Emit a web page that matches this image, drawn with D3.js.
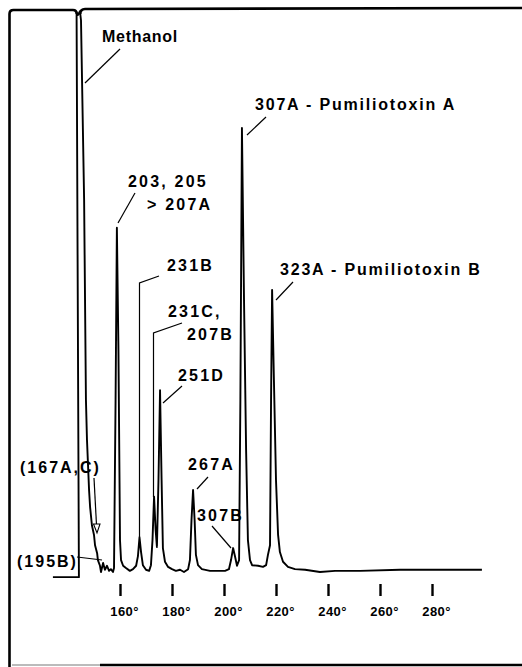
<!DOCTYPE html>
<html><head><meta charset="utf-8">
<script src="https://cdn.jsdelivr.net/npm/d3@7"></script>
<style>body{margin:0;background:#fff}svg{display:block}</style>
</head><body>
<svg id="chart" width="522" height="667"></svg>
<script>
// Retention (column temperature, degrees) and detector signal (% of full scale)
const retention = [134.2,144.2,143.3,143.8,144.6,145.0,146.2,146.9,147.3,148.1,148.5,149.2,150.0,150.4,151.2,151.5,152.3,152.7,153.5,154.2,155.0,155.8,156.5,157.3,157.7,158.3,158.8,159.4,160.0,160.4,161.2,162.3,163.8,165.0,166.2,166.9,167.5,168.1,168.8,170.0,171.2,171.9,172.5,173.1,173.7,174.2,174.8,175.4,176.0,176.5,177.3,178.5,180.0,181.5,183.1,184.6,186.2,186.9,187.5,188.1,188.7,189.2,190.0,191.5,194.6,197.7,200.4,201.9,202.7,203.5,204.2,205.0,205.8,206.3,206.9,207.7,208.5,209.2,210.0,210.8,213.1,215.0,216.2,216.9,217.7,218.1,218.5,219.2,220.0,220.8,221.5,222.7,224.6,227.3,231.2,236.9,242.7,252.3,267.7,283.1,299.2];
const signal = [0.5,0.5,99.6,99.1,99.8,98.2,66.7,31.6,24.6,15.8,12.8,9.6,7.9,6.1,4.7,3.5,2.5,1.4,3.0,1.8,2.5,1.6,1.9,1.4,2.1,31.6,61.8,40.4,7.0,3.5,2.5,2.1,1.6,1.9,2.5,4.2,7.5,4.9,2.6,1.8,1.6,2.6,7.0,14.6,8.8,5.8,17.5,33.3,17.5,5.6,3.2,2.3,1.9,1.6,1.8,1.4,1.9,3.5,10.5,15.8,10.5,4.4,2.6,1.9,1.6,1.6,1.6,1.9,3.5,5.6,4.2,2.5,3.5,31.6,79.3,49.1,22.8,7.0,3.5,2.6,2.5,2.3,2.6,4.4,6.1,31.6,50.9,35.1,17.5,7.9,4.9,3.2,2.3,1.9,1.8,1.4,1.6,1.6,1.8,1.8,1.8];
const tickValues = [160,180,200,220,240,260,280];
const tickLabels = ["160°","180°","200°","220°","240°","260°","280°"];
const peakNames = ["Methanol","203, 205","> 207A","231B","231C,","207B","251D","267A","307B","307A - Pumiliotoxin A","323A - Pumiliotoxin B","(167A,C)","(195B)"];

const svg = d3.select("#chart");
const x = d3.scaleLinear().domain([130,300]).range([42,484]);
const y = d3.scaleLinear().domain([0,100]).range([580,10]);
const font = "'Liberation Sans', Arial, Helvetica, sans-serif";

// frame
svg.append("path").attr("d","M9.5,667 L9.5,14 Q9.5,10 13.5,10 L73,10 Q76.5,10 76.8,14")
  .attr("fill","none").attr("stroke","#000").attr("stroke-width",2.6);
svg.append("path").attr("d","M80.2,14 Q80.5,9 85,9 L522,8")
  .attr("fill","none").attr("stroke","#000").attr("stroke-width",2.6);
svg.append("line").attr("x1",12).attr("x2",100).attr("y1",665).attr("y2",665)
  .attr("stroke","#bbb").attr("stroke-width",2);
svg.append("line").attr("x1",100).attr("x2",522).attr("y1",665).attr("y2",665)
  .attr("stroke","#000").attr("stroke-width",2.6);

// chromatogram trace
const pts = retention.map((t,i)=>[t,signal[i]]);
svg.append("path").datum(pts)
  .attr("d", d3.line().x(d=>x(d[0])).y(d=>y(d[1])))
  .attr("fill","none").attr("stroke","#000").attr("stroke-width",1.9)
  .attr("stroke-linejoin","round");

// axis ticks
const axis = d3.axisBottom(x).tickValues(tickValues).tickSize(12).tickPadding(11)
  .tickFormat((d,i)=>tickLabels[i]);
const g = svg.append("g").attr("transform","translate(0,584)").call(axis);
g.select(".domain").remove();
g.selectAll(".tick line").attr("stroke","#000").attr("stroke-width",2.4);
g.selectAll(".tick text").attr("fill","#000").attr("font-family",font)
  .attr("font-weight","bold").attr("font-size",13).attr("dx",4).attr("letter-spacing",0.4);

// labels
const labelLayout = [
  [102,42,0.7],[128,187,2.2],[147,210,2.2],[167,271,2.2],[168,317,2.2],[187,340,2.2],
  [178,381,2.2],[188,470,2.2],[197,521,2.2],[255,110,1.8],[280,275,1.8],[20,473,2.0],[17,567,2.0]
];
peakNames.forEach((t,i)=>{
  const L = labelLayout[i];
  svg.append("text").attr("x",L[0]).attr("y",L[1]).text(t)
    .attr("font-family",font).attr("font-weight","bold").attr("font-size",16)
    .attr("letter-spacing",L[2]).attr("fill","#000");
});

// leader lines
const leaders = [
  [[120,49],[85,83]],
  [[135,193],[118,223]],
  [[159,276],[139.5,283],[139.5,537]],
  [[182,323],[153.5,333],[153.5,497]],
  [[182,386],[163,403]],
  [[208,477],[197,489]],
  [[212,526],[231,548]],
  [[266,117],[247,135]],
  [[293,282],[276,300]],
  [[94,478],[96.5,525]],
  [[77,557],[102,560]]
];
leaders.forEach(p=>{
  svg.append("path").attr("d", d3.line()(p)).attr("fill","none")
    .attr("stroke","#000").attr("stroke-width",1.2);
});
// open arrowhead for (167A,C)
svg.append("path").attr("d","M93.5,524 L100,524 L97,533 Z").attr("fill","#fff")
  .attr("stroke","#000").attr("stroke-width",1.1);
</script>
</body></html>
